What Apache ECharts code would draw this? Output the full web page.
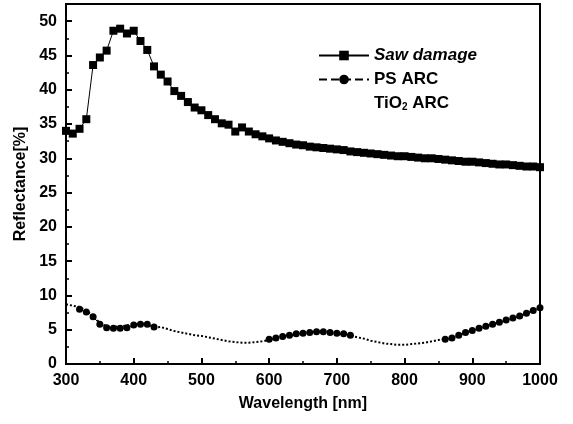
<!DOCTYPE html>
<html>
<head>
<meta charset="utf-8">
<script src="https://cdn.jsdelivr.net/npm/echarts@6/dist/echarts.min.js"></script>
<style>
  html, body { margin: 0; padding: 0; background: #fff; }
  #chart { width: 573px; height: 424px; }
</style>
</head>
<body>
<div id="chart"></div>
<script>
// wavelength points (nm)
var wavelength = [300, 310, 320, 330, 340, 350, 360, 370, 380, 390,
    400, 410, 420, 430, 440, 450, 460, 470, 480, 490,
    500, 510, 520, 530, 540, 550, 560, 570, 580, 590,
    600, 610, 620, 630, 640, 650, 660, 670, 680, 690,
    700, 710, 720, 730, 740, 750, 760, 770, 780, 790,
    800, 810, 820, 830, 840, 850, 860, 870, 880, 890,
    900, 910, 920, 930, 940, 950, 960, 970, 980, 990, 1000];

// reflectance [%]
var sawDamage = [34.0, 33.6, 34.3, 35.7, 43.6, 44.7, 45.7, 48.6, 48.9, 48.2,
    48.6, 47.1, 45.8, 43.4, 42.2, 41.2, 39.8, 39.1, 38.2, 37.4,
    37.0, 36.3, 35.7, 35.1, 34.9, 33.9, 34.5, 33.9, 33.5, 33.2,
    32.9, 32.6, 32.4, 32.2, 32.0, 31.9, 31.7, 31.6, 31.5, 31.4,
    31.3, 31.2, 31.0, 30.9, 30.8, 30.7, 30.6, 30.5, 30.4, 30.3,
    30.3, 30.2, 30.1, 30.0, 30.0, 29.9, 29.8, 29.7, 29.6, 29.5,
    29.5, 29.4, 29.3, 29.2, 29.1, 29.1, 29.0, 28.9, 28.8, 28.8, 28.7];

var psArc = [null, null, 8.0, 7.6, 6.9, 5.8, 5.3, 5.2, 5.2, 5.3,
    5.7, 5.8, 5.8, 5.4, null, null, null, null, null, null,
    null, null, null, null, null, null, null, null, null, null,
    3.6, 3.8, 4.0, 4.2, 4.4, 4.5, 4.6, 4.7, 4.7, 4.6,
    4.5, 4.4, 4.2, null, null, null, null, null, null, null,
    null, null, null, null, null, null, 3.6, 3.8, 4.2, 4.6,
    4.9, 5.2, 5.5, 5.8, 6.1, 6.4, 6.7, 7.0, 7.4, 7.8, 8.2];

var tio2Arc = [8.7, 8.5, 8.3, 7.8, 7.0, 6.0, 5.5, 5.4, 5.5, 5.6,
    5.8, 5.9, 5.8, 5.3, 5.4, 5.1, 4.8, 4.6, 4.4, 4.2,
    4.1, 3.9, 3.7, 3.5, 3.3, 3.2, 3.1, 3.1, 3.2, 3.3,
    3.5, 3.7, 3.9, 4.1, 4.3, 4.5, 4.6, 4.7, 4.7, 4.6,
    4.5, 4.3, 4.1, 3.9, 3.7, 3.4, 3.2, 3.0, 2.9, 2.8,
    2.8, 2.9, 3.0, 3.1, 3.3, 3.5, 3.6, 3.8, 4.2, 4.6,
    4.9, 5.2, 5.5, 5.8, 6.1, 6.4, 6.7, 7.0, 7.4, 7.8, 8.2];

var seriesNames = ['Saw damage', 'PS ARC', 'TiO2 ARC'];

function pairs(ys) {
    var out = [];
    for (var i = 0; i < wavelength.length; i++) {
        out.push([wavelength[i], ys[i]]);
    }
    return out;
}

var font = 'Liberation Sans, Arial, sans-serif';
var chart = echarts.init(document.getElementById('chart'));

var option = {
    animation: false,
    backgroundColor: '#fff',
    grid: {
        left: 66, right: 33, top: 4, bottom: 60,
        show: true, borderColor: '#000', borderWidth: 2
    },
    legend: {
        orient: 'vertical',
        left: 313, top: 42,
        itemWidth: 50, itemHeight: 12, itemGap: 7,
        textStyle: {
            fontFamily: font, fontWeight: 'bold', fontSize: 17, color: '#000',
            rich: {
                sub: { fontFamily: font, fontWeight: 'bold', fontSize: 10, verticalAlign: 'bottom', padding: [8, 0, 0, 0] }
            }
        },
        formatter: function (name) {
            if (name === 'TiO2 ARC') return 'TiO{sub|2} ARC';
            return name;
        },
        data: [
            { name: 'Saw damage', textStyle: { fontStyle: 'italic' } },
            { name: 'PS ARC' },
            { name: 'TiO2 ARC', itemStyle: { opacity: 0 }, lineStyle: { opacity: 0 } }
        ]
    },
    xAxis: {
        type: 'value',
        min: 300, max: 1000, interval: 100,
        name: 'Wavelength [nm]',
        nameLocation: 'middle', nameGap: 32,
        nameTextStyle: { fontFamily: font, fontWeight: 'bold', fontSize: 16, color: '#000' },
        axisLine: { lineStyle: { color: '#000', width: 2 } },
        axisTick: { inside: true, length: 6, lineStyle: { color: '#000', width: 2 } },
        minorTick: { show: true, splitNumber: 2, length: 3, lineStyle: { color: '#000', width: 1.5 } },
        axisLabel: {
            fontFamily: font, fontWeight: 'bold', fontSize: 16, color: '#000', margin: 9,
            formatter: function (v) { return String(v); }
        },
        splitLine: { show: false }
    },
    yAxis: {
        type: 'value',
        min: 0, max: 52.5, interval: 5,
        name: 'Reflectance[%]',
        nameLocation: 'middle', nameGap: 37,
        nameTextStyle: { fontFamily: font, fontWeight: 'bold', fontSize: 16, color: '#000' },
        axisLine: { lineStyle: { color: '#000', width: 2 } },
        axisTick: { inside: true, length: 6, lineStyle: { color: '#000', width: 2 } },
        minorTick: { show: true, splitNumber: 2, length: 3, lineStyle: { color: '#000', width: 1.5 } },
        axisLabel: {
            fontFamily: font, fontWeight: 'bold', fontSize: 16, color: '#000', margin: 9,
            showMaxLabel: false
        },
        splitLine: { show: false }
    },
    series: [
        {
            name: seriesNames[0],
            type: 'line',
            data: pairs(sawDamage),
            symbol: 'rect', symbolSize: 8,
            itemStyle: { color: '#000' },
            lineStyle: { color: '#000', width: 1 },
            z: 3
        },
        {
            name: seriesNames[1],
            type: 'line',
            data: pairs(psArc),
            connectNulls: false,
            symbol: 'circle', symbolSize: 7,
            itemStyle: { color: '#000' },
            lineStyle: { color: '#000', width: 1, type: 'dashed' },
            z: 3
        },
        {
            name: seriesNames[2],
            type: 'line',
            data: pairs(tio2Arc),
            showSymbol: false,
            symbol: 'none',
            itemStyle: { color: '#000' },
            lineStyle: { color: '#000', width: 2, type: 'dotted' },
            z: 2
        }
    ]
};

chart.setOption(option);
</script>
</body>
</html>
